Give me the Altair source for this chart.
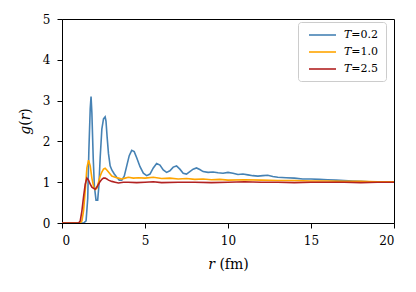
import altair as alt
import pandas as pd

labels = ["𝑇=0.2", "𝑇=1.0", "𝑇=2.5"]
colors = ["#4682b4", "#ffa500", "#b22222"]

r_02 = [0, 1.3, 1.45, 1.55, 1.62, 1.7, 1.75, 1.8, 1.88, 1.95,
        2.05, 2.15, 2.22, 2.3, 2.4, 2.5, 2.6, 2.65, 2.72, 2.8,
        2.9, 3.0, 3.15, 3.3, 3.45, 3.6, 3.75, 3.9, 4.05, 4.2,
        4.35, 4.5, 4.7, 4.9, 5.1, 5.3, 5.5, 5.7, 5.9, 6.1,
        6.3, 6.5, 6.7, 6.9, 7.1, 7.3, 7.5, 7.7, 7.9, 8.1,
        8.3, 8.5, 8.8, 9.1, 9.4, 9.7, 10.0, 10.3, 10.6, 10.9,
        11.2, 11.5, 11.8, 12.1, 12.4, 12.7, 13.0, 13.5, 14.0, 14.5,
        15.0, 15.5, 16.0, 16.5, 17.0, 17.5, 18.0, 18.5, 19.0, 19.5,
        20.0]
g_02 = [0, 0, 0.05, 0.6, 1.8, 2.8, 3.1, 2.7, 1.6, 0.9,
        0.56, 0.56, 0.9, 1.6, 2.3, 2.55, 2.6, 2.5, 2.1, 1.7,
        1.4, 1.3, 1.2, 1.12, 1.05, 1.05, 1.15, 1.4, 1.65, 1.78,
        1.75, 1.6, 1.38, 1.22, 1.16, 1.2, 1.35, 1.46, 1.42, 1.3,
        1.24, 1.28, 1.37, 1.4, 1.32, 1.22, 1.2, 1.26, 1.32, 1.35,
        1.31, 1.26, 1.24, 1.25, 1.23, 1.22, 1.24, 1.22, 1.19, 1.2,
        1.18, 1.16, 1.15, 1.16, 1.17, 1.14, 1.12, 1.11, 1.1, 1.08,
        1.08, 1.07, 1.06, 1.05, 1.04, 1.03, 1.02, 1.01, 1.01, 1.0,
        1.0]

r_10 = [0, 1.1, 1.2, 1.3, 1.4, 1.5, 1.6, 1.7, 1.8, 1.9,
        2.0, 2.1, 2.2, 2.3, 2.4, 2.5, 2.6, 2.7, 2.8, 2.9,
        3.0, 3.2, 3.4, 3.6, 3.8, 4.0, 4.3, 4.6, 5.0, 5.5,
        6.0, 6.5, 7.0, 7.5, 8.0, 8.5, 9.0, 9.5, 10, 11,
        12, 13, 14, 15, 16, 17, 18, 19, 20]
g_10 = [0, 0, 0.05, 0.3, 0.8, 1.35, 1.54, 1.4, 1.1, 0.9,
        0.82, 0.85, 1.0, 1.15, 1.25, 1.32, 1.34, 1.3, 1.25, 1.2,
        1.15, 1.12, 1.1, 1.08, 1.1, 1.12, 1.1, 1.11, 1.1, 1.12,
        1.09, 1.1, 1.08, 1.09, 1.07, 1.08, 1.06, 1.07, 1.05, 1.06,
        1.05, 1.04, 1.04, 1.03, 1.03, 1.02, 1.02, 1.01, 1.01]

r_25 = [0, 1.0, 1.1, 1.2, 1.3, 1.4, 1.5, 1.6, 1.7, 1.8,
        1.9, 2.0, 2.1, 2.2, 2.3, 2.4, 2.5, 2.6, 2.7, 2.8,
        3.0, 3.2, 3.4, 3.7, 4.0, 4.5, 5.0, 5.5, 6.0,
        7, 8, 9, 10, 11, 12, 13, 14, 15, 16, 17, 18, 19, 20]
g_25 = [0, 0, 0.05, 0.3, 0.65, 0.95, 1.1, 1.05, 0.95, 0.88,
        0.85, 0.83, 0.88, 0.95, 1.02, 1.07, 1.1, 1.1, 1.08, 1.05,
        1.02, 1.0, 0.98, 1.0, 1.0, 0.99, 1.0, 1.01, 0.99,
        1.0, 1.0, 0.99, 1.0, 1.01, 1.0, 1.0, 0.99, 1.0, 1.0, 1.0, 0.99, 1.0, 1.0]

x_ticks = [0, 5, 10, 15, 20]
y_ticks = [0, 1, 2, 3, 4, 5]

frames = []
for lab, rs, gs in zip(labels, [r_02, r_10, r_25], [g_02, g_10, g_25]):
    frames.append(pd.DataFrame({"r": rs, "g": gs, "T": lab}))
df = pd.concat(frames, ignore_index=True)

FONT = "DejaVu Serif"

chart = alt.Chart(df).mark_line(strokeWidth=1.6, clip=True).encode(
    x=alt.X("r:Q", scale=alt.Scale(domain=[0, 20], nice=False),
            axis=alt.Axis(values=x_ticks, title="𝑟 (fm)", grid=False, titlePadding=11)),
    y=alt.Y("g:Q", scale=alt.Scale(domain=[0, 5], nice=False),
            axis=alt.Axis(values=y_ticks, title="𝑔(𝑟)", grid=False, titlePadding=10)),
    color=alt.Color("T:N", scale=alt.Scale(domain=labels, range=colors),
                    legend=alt.Legend(title=None, orient="none", legendX=236, legendY=3,
                                      symbolType="M-0.4,0L5,0", symbolSize=100,
                                      symbolStrokeWidth=1.6, symbolFillColor="transparent",
                                      labelFont=FONT, labelFontSize=11, rowPadding=6,
                                      labelOffset=27, padding=7, strokeColor="#cccccc",
                                      cornerRadius=3, fillColor="white")),
    order=alt.Order("r:Q"),
).properties(
    width=332, height=204,
    autosize=alt.AutoSizeParams(type="none"),
    padding={"left": 54, "top": 11, "right": 14, "bottom": 60},
).configure_view(
    stroke="black", strokeWidth=1
).configure_axis(
    domainColor="black", tickColor="black", tickSize=5, labelColor="black",
    labelFont=FONT, labelFontSize=12, titleFont=FONT, titleFontSize=14,
    titleFontWeight="normal", titleColor="black", labelPadding=7,
)

chart.save("out.html", embed_options={"renderer": "svg", "actions": False})
